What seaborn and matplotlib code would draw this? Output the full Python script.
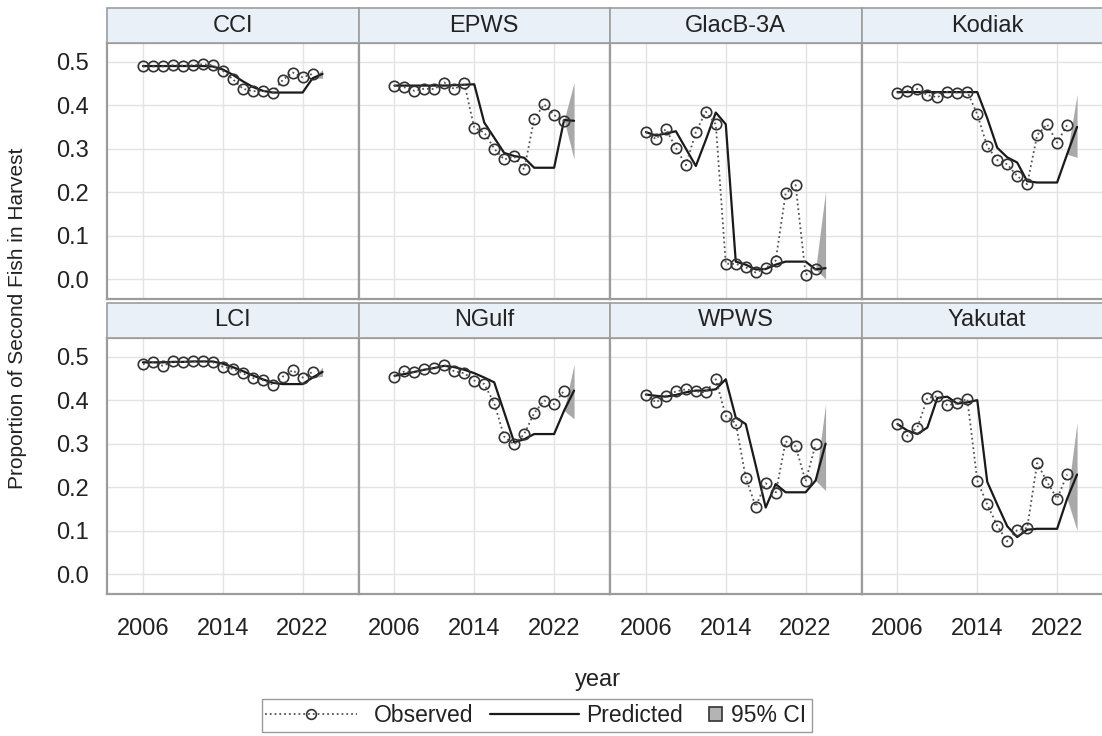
import matplotlib
matplotlib.use("Agg")
import matplotlib.pyplot as plt
from matplotlib.lines import Line2D
from matplotlib.patches import Patch, Rectangle
from matplotlib.ticker import FormatStrFormatter
import pandas as pd
import seaborn as sns

# ---- data ----
areas = ['CCI', 'EPWS', 'GlacB-3A', 'Kodiak', 'LCI', 'NGulf', 'WPWS', 'Yakutat']
obs_years = list(range(2006, 2024))
pred_years = list(range(2006, 2025))

cci_obs = [0.489, 0.489, 0.489, 0.492, 0.491, 0.492, 0.494, 0.492, 0.479, 0.460,
           0.438, 0.432, 0.433, 0.428, 0.458, 0.475, 0.464, 0.472]
cci_pred = [0.490, 0.490, 0.490, 0.490, 0.490, 0.490, 0.490, 0.489, 0.482, 0.470,
            0.455, 0.442, 0.433, 0.429, 0.429, 0.429, 0.429, 0.462, 0.472]
epws_obs = [0.445, 0.441, 0.433, 0.438, 0.437, 0.452, 0.437, 0.450, 0.348, 0.337,
            0.300, 0.275, 0.282, 0.252, 0.368, 0.402, 0.377, 0.364]
epws_pred = [0.445, 0.445, 0.445, 0.445, 0.445, 0.445, 0.446, 0.447, 0.448, 0.360,
             0.325, 0.290, 0.283, 0.279, 0.256, 0.256, 0.256, 0.366, 0.364]
glacb_obs = [0.338, 0.322, 0.345, 0.302, 0.262, 0.338, 0.385, 0.356, 0.035, 0.035,
             0.027, 0.015, 0.025, 0.042, 0.197, 0.216, 0.010, 0.023]
glacb_pred = [0.338, 0.330, 0.335, 0.340, 0.300, 0.260, 0.320, 0.383, 0.356, 0.040,
              0.033, 0.022, 0.023, 0.033, 0.040, 0.040, 0.040, 0.022, 0.025]
kodiak_obs = [0.428, 0.433, 0.437, 0.423, 0.418, 0.431, 0.429, 0.431, 0.379, 0.305,
              0.274, 0.264, 0.237, 0.218, 0.331, 0.356, 0.314, 0.354]
kodiak_pred = [0.430, 0.430, 0.430, 0.430, 0.430, 0.430, 0.430, 0.430, 0.430, 0.370,
               0.302, 0.280, 0.268, 0.225, 0.222, 0.222, 0.222, 0.287, 0.350]
lci_obs = [0.483, 0.488, 0.479, 0.489, 0.488, 0.489, 0.491, 0.487, 0.477, 0.472,
           0.462, 0.451, 0.446, 0.436, 0.454, 0.469, 0.452, 0.465]
lci_pred = [0.487, 0.487, 0.487, 0.488, 0.488, 0.489, 0.489, 0.489, 0.484, 0.476,
            0.467, 0.457, 0.448, 0.440, 0.437, 0.437, 0.437, 0.452, 0.465]
ngulf_obs = [0.454, 0.466, 0.464, 0.471, 0.473, 0.481, 0.466, 0.462, 0.445, 0.437,
             0.393, 0.316, 0.298, 0.322, 0.370, 0.399, 0.391, 0.422]
ngulf_pred = [0.456, 0.460, 0.465, 0.470, 0.474, 0.479, 0.476, 0.470, 0.462, 0.452,
              0.441, 0.372, 0.303, 0.310, 0.322, 0.322, 0.322, 0.376, 0.422]
wpws_obs = [0.413, 0.395, 0.410, 0.420, 0.425, 0.420, 0.418, 0.448, 0.364, 0.347,
            0.222, 0.155, 0.209, 0.186, 0.305, 0.294, 0.213, 0.298]
wpws_pred = [0.413, 0.410, 0.408, 0.412, 0.418, 0.422, 0.422, 0.425, 0.448, 0.360,
             0.345, 0.250, 0.153, 0.207, 0.188, 0.188, 0.188, 0.215, 0.300]
yakutat_obs = [0.345, 0.318, 0.337, 0.405, 0.409, 0.388, 0.393, 0.403, 0.215, 0.160,
               0.111, 0.075, 0.101, 0.106, 0.255, 0.212, 0.173, 0.229]
yakutat_pred = [0.345, 0.330, 0.322, 0.337, 0.405, 0.408, 0.392, 0.395, 0.400, 0.212,
                0.160, 0.110, 0.085, 0.102, 0.104, 0.104, 0.104, 0.173, 0.229]

# 95% CI of the forecast year (last predicted year)
ci_lower = [0.462, 0.275, 0.000, 0.280, 0.455, 0.357, 0.192, 0.100]
ci_upper = [0.482, 0.452, 0.202, 0.425, 0.476, 0.483, 0.391, 0.349]

obs_series = [cci_obs, epws_obs, glacb_obs, kodiak_obs, lci_obs, ngulf_obs, wpws_obs, yakutat_obs]
pred_series = [cci_pred, epws_pred, glacb_pred, kodiak_pred, lci_pred, ngulf_pred, wpws_pred, yakutat_pred]

rows = []
for area, obs, pred, lo, hi in zip(areas, obs_series, pred_series, ci_lower, ci_upper):
    for i, yr in enumerate(pred_years):
        o = obs[i] if i < len(obs) else None
        low = upp = None
        if yr == pred_years[-2]:
            low = upp = pred[i]
        elif yr == pred_years[-1]:
            low, upp = lo, hi
        rows.append({'area': area, 'year': yr, 'observed': o, 'predicted': pred[i],
                     'lower': low, 'upper': upp})
df = pd.DataFrame(rows).astype({'observed': float, 'lower': float, 'upper': float})

# ---- style ----
OBS_LINE = '#555555'
OBS_EDGE = '#333333'
PRED = '#1a1a1a'
CI_FILL = '#a9a9a9'
GRID = '#e3e3e3'
BORDER = '#9c9c9c'
STRIP = '#eaf0f8'

sns.set_style("white")
plt.rcParams['font.family'] = ['Liberation Sans', 'DejaVu Sans']
plt.rcParams['text.color'] = '#222222'
plt.rcParams['xtick.color'] = '#999999'
plt.rcParams['ytick.color'] = '#999999'
plt.rcParams['xtick.labelcolor'] = '#222222'
plt.rcParams['ytick.labelcolor'] = '#222222'

W, H = 1102, 736
LEG_FS = 16.5


def draw_panel(data, color=None, **kws):
    ax = plt.gca()
    band = data.dropna(subset=['lower'])
    ax.fill_between(band['year'], band['lower'], band['upper'], color=CI_FILL, lw=0, zorder=1)
    sns.lineplot(data=data, x='year', y='predicted', ax=ax, color=PRED, linewidth=1.6,
                 errorbar=None, zorder=2)
    sns.lineplot(data=data.dropna(subset=['observed']), x='year', y='observed', ax=ax,
                 color=OBS_LINE, linestyle=':', linewidth=1.3, marker='o', markersize=7.5,
                 markerfacecolor='none', markeredgecolor=OBS_EDGE, markeredgewidth=1.2,
                 errorbar=None, zorder=3)


g = sns.FacetGrid(df, col='area', col_wrap=4, col_order=areas, sharex=True, sharey=True,
                  height=3, aspect=1, despine=False)
g.map_dataframe(draw_panel)
g.set_titles('')
g.set_axis_labels('', '')
g.set(xlim=(2002.4, 2027.6), ylim=(-0.046, 0.543),
      xticks=[2006, 2014, 2022], yticks=[0.0, 0.1, 0.2, 0.3, 0.4, 0.5])

fig = g.figure
fig.set_size_inches(W / 100, H / 100)

col_left = [107, 358.5, 610, 861.5]
row_top = [43, 338]
pw, ph, sh = 251.5, 256, 35

for k, (ax, area) in enumerate(zip(g.axes.flat, areas)):
    r, c = divmod(k, 4)
    ax.set_position([col_left[c] / W, 1 - (row_top[r] + ph) / H, pw / W, ph / H])
    ax.grid(True, color=GRID, lw=1)
    ax.set_axisbelow(True)
    for sp in ax.spines.values():
        sp.set_color(BORDER)
        sp.set_linewidth(1.6)
    ax.yaxis.set_major_formatter(FormatStrFormatter('%.1f'))
    ax.tick_params(axis='both', labelsize=17, width=1)
    ax.tick_params(axis='x', labelbottom=(r == 1), length=7 if r == 1 else 0, pad=10)
    ax.tick_params(axis='y', labelleft=(c == 0), length=8 if c == 0 else 0, pad=5)
    # strip header
    ax.add_patch(Rectangle((0, 1), 1, sh / ph, transform=ax.transAxes, clip_on=False,
                           facecolor=STRIP, edgecolor=BORDER, lw=1.2, zorder=5))
    ax.text(0.5, 1 + sh / ph / 2, area, transform=ax.transAxes, ha='center', va='center',
            fontsize=17, zorder=6)

fig.text(18 / W, 1 - 318 / H, 'Proportion of Second Fish in Harvest', rotation=90,
         ha='center', va='center', fontsize=15)
fig.text(598 / W, 1 - 680 / H, 'year', ha='center', va='center', fontsize=17)

obs_handle = Line2D([], [], color=OBS_LINE, ls=':', lw=1.3, marker='o', ms=7,
                    mfc='none', mec=OBS_EDGE, mew=1.2)
pred_handle = Line2D([], [], color=PRED, lw=1.6)
ci_handle = Patch(facecolor='#b4b4b4', edgecolor='#333333', lw=1.2)

leg_y = 1 - 716 / H
common = dict(loc='center left', frameon=False, borderpad=0, borderaxespad=0, fontsize=LEG_FS)
fig.legend([obs_handle], ['Observed'], bbox_to_anchor=(265 / W, leg_y),
           handlelength=4.0, handletextpad=0.75, **common)
fig.legend([pred_handle], ['Predicted'], bbox_to_anchor=(490 / W, leg_y),
           handlelength=3.9, handletextpad=0.3, **common)
fig.legend([ci_handle], ['95% CI'], bbox_to_anchor=(709 / W, leg_y),
           handlelength=0.55, handleheight=0.55, handletextpad=0.4, **common)
fig.patches.append(Rectangle((262 / W, 1 - 732 / H), (812 - 262) / W, 33 / H,
                             transform=fig.transFigure, fill=False, edgecolor=BORDER, lw=1))

fig.savefig('out.png', dpi=100)
